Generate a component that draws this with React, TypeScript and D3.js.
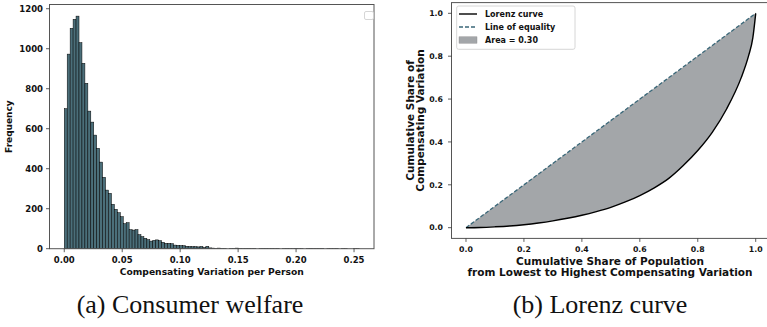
import React from "react";
import * as d3 from "d3";

// ---------- Data ----------
const histCounts: number[] = [
  700, 973, 1102, 1147, 1163, 1030, 927, 827, 688, 633,
  568, 502, 433, 357, 293, 277, 222, 197, 180, 160,
  125, 130, 95, 93, 95, 70, 60, 52, 45, 38,
  42, 44, 40, 32, 27, 27, 25, 18, 17, 16,
  15, 12, 11, 10, 10, 9, 11, 6, 12, 4,
  3, 2, 3, 2, 2, 0, 1, 2, 3, 2,
  1, 2, 2, 1, 2, 0, 1, 2, 2, 1,
  2, 1, 2, 0, 1, 2, 1, 1, 2, 1,
  1, 0, 1, 2, 1, 1, 1, 2, 0, 1,
  1, 1, 2, 0, 1, 1, 0, 0, 1, 1,
];
const histRange: [number, number] = [0, 0.2545];
const histXTicks = [0, 0.05, 0.1, 0.15, 0.2, 0.25];
const histYTicks = [0, 200, 400, 600, 800, 1000, 1200];

const lorenzPop = [0, 0.05, 0.1, 0.15, 0.2, 0.25, 0.3, 0.35, 0.4, 0.45, 0.5, 0.55, 0.6, 0.65, 0.7, 0.75, 0.8, 0.85, 0.9, 0.95, 0.975, 0.99, 1];
const lorenzShare = [0, 0.001, 0.004, 0.008, 0.014, 0.022, 0.032, 0.044, 0.058, 0.075, 0.095, 0.12, 0.15, 0.186, 0.23, 0.29, 0.36, 0.445, 0.555, 0.7, 0.8, 0.885, 1];
const lorenzTicks = [0, 0.2, 0.4, 0.6, 0.8, 1.0];
const legendItems = ["Lorenz curve", "Line of equality", "Area = 0.30"];
const captions = ["(a) Consumer welfare", "(b) Lorenz curve"];

const FONT = "'DejaVu Sans', sans-serif";
const BAR_FILL = "#4b6f7a";
const DASH_COLOR = "#3a6778";
const AREA_FILL = "#a3a6a9";

export default function App() {
  // ---------- Left: histogram ----------
  const span = histRange[1] - histRange[0];
  const pad = span * 0.05;
  const xH = d3.scaleLinear().domain([histRange[0] - pad, histRange[1] + pad]).range([49.5, 374]);
  const yH = d3.scaleLinear().domain([0, d3.max(histCounts)! * 1.05]).range([248.7, 4.5]);
  const binW = span / histCounts.length;

  // ---------- Right: Lorenz ----------
  const xL = d3.scaleLinear().domain([-0.05, 1.05]).range([451.5, 770.2]);
  const yL = d3.scaleLinear().domain([-0.05, 1.05]).range([238.4, 2.6]);
  const pts = lorenzPop.map((p, i) => [p, lorenzShare[i]] as [number, number]);
  const lorenzLine = d3.line<[number, number]>().x(d => xL(d[0])).y(d => yL(d[1])).curve(d3.curveMonotoneX);
  const area = d3.area<[number, number]>().x(d => xL(d[0])).y0(d => yL(d[1])).y1(d => yL(d[0])).curve(d3.curveMonotoneX);

  const hx0 = xH.range()[0], hx1 = xH.range()[1], hy0 = yH.range()[0], hy1 = yH.range()[1];
  const lx0 = xL.range()[0], lx1 = xL.range()[1], ly0 = yL.range()[0], ly1 = yL.range()[1];

  return (
    <svg width={767} height={327} style={{ position: "absolute", left: 0, top: 0, background: "#fff" }}>
      <rect x={0} y={0} width={767} height={327} fill="#fff" />
      {/* Histogram bars */}
      <g>
        {histCounts.map((c, i) => {
          const x0 = histRange[0] + i * binW;
          const xa = xH(x0), xb = xH(x0 + binW);
          return c > 0 ? (
            <rect key={i} x={xa} y={yH(c)} width={xb - xa} height={yH(0) - yH(c)} fill={BAR_FILL} stroke="#000" strokeWidth={0.5} />
          ) : null;
        })}
      </g>
      {/* Histogram frame */}
      <rect x={hx0} y={hy1} width={hx1 - hx0} height={hy0 - hy1} fill="none" stroke="#555" strokeWidth={1} />
      {/* empty legend */}
      <rect x={364.5} y={11.5} width={9} height={8} rx={1.5} fill="#fff" stroke="#ccc" strokeWidth={0.8} />
      {/* Hist x ticks */}
      {histXTicks.map(t => (
        <g key={"hx" + t}>
          <line x1={xH(t)} x2={xH(t)} y1={hy0} y2={hy0 + 3.5} stroke="#333" strokeWidth={0.8} />
          <text x={xH(t)} y={263} textAnchor="middle" fontFamily={FONT} fontWeight="bold" fontSize={8.5} fill="#111">{t.toFixed(2)}</text>
        </g>
      ))}
      {histYTicks.map(t => (
        <g key={"hy" + t}>
          <line x1={hx0 - 3.5} x2={hx0} y1={yH(t)} y2={yH(t)} stroke="#333" strokeWidth={0.8} />
          <text x={43} y={yH(t) + 3} textAnchor="end" fontFamily={FONT} fontWeight="bold" fontSize={8.5} fill="#111">{t}</text>
        </g>
      ))}
      <text x={(hx0 + hx1) / 2} y={275} textAnchor="middle" fontFamily={FONT} fontWeight="bold" fontSize={9.2} fill="#111">Compensating Variation per Person</text>
      <text transform={`translate(12,${(hy0 + hy1) / 2}) rotate(-90)`} textAnchor="middle" fontFamily={FONT} fontWeight="bold" fontSize={9} fill="#111">Frequency</text>

      {/* Lorenz */}
      <path d={area(pts)!} fill={AREA_FILL} stroke="none" />
      <line x1={xL(0)} y1={yL(0)} x2={xL(1)} y2={yL(1)} stroke={DASH_COLOR} strokeWidth={1.3} strokeDasharray="4,2" />
      <path d={lorenzLine(pts)!} fill="none" stroke="#000" strokeWidth={1.4} />
      <rect x={lx0} y={ly1} width={lx1 - lx0} height={ly0 - ly1} fill="none" stroke="#555" strokeWidth={1} />
      {lorenzTicks.map(t => (
        <g key={"lx" + t}>
          <line x1={xL(t)} x2={xL(t)} y1={ly0} y2={ly0 + 3.5} stroke="#333" strokeWidth={0.8} />
          <text x={xL(t)} y={251.5} textAnchor="middle" fontFamily={FONT} fontWeight="bold" fontSize={7.8} fill="#111">{t.toFixed(1)}</text>
        </g>
      ))}
      {lorenzTicks.map(t => (
        <g key={"ly" + t}>
          <line x1={lx0 - 3.5} x2={lx0} y1={yL(t)} y2={yL(t)} stroke="#333" strokeWidth={0.8} />
          <text x={443} y={yL(t) + 2.8} textAnchor="end" fontFamily={FONT} fontWeight="bold" fontSize={7.8} fill="#111">{t.toFixed(1)}</text>
        </g>
      ))}
      <text x={610} y={265} textAnchor="middle" fontFamily={FONT} fontWeight="bold" fontSize={10.5} fill="#111">Cumulative Share of Population</text>
      <text x={610} y={276} textAnchor="middle" fontFamily={FONT} fontWeight="bold" fontSize={10.5} fill="#111">from Lowest to Highest Compensating Variation</text>
      <text transform={`translate(413.5,${(ly0 + ly1) / 2}) rotate(-90)`} textAnchor="middle" fontFamily={FONT} fontWeight="bold" fontSize={10.5} fill="#111">Cumulative Share of</text>
      <text transform={`translate(424,${(ly0 + ly1) / 2}) rotate(-90)`} textAnchor="middle" fontFamily={FONT} fontWeight="bold" fontSize={10.5} fill="#111">Compensating Variation</text>

      {/* Legend */}
      <rect x={456.7} y={6} width={118.3} height={43.3} rx={2} fill="#fff" fillOpacity={0.85} stroke="#ccc" strokeWidth={0.8} />
      {legendItems.map((lab, i) => {
        const cy = 14 + i * 13;
        return (
          <g key={lab}>
            {i === 0 && <line x1={459} x2={477} y1={cy} y2={cy} stroke="#000" strokeWidth={1.4} />}
            {i === 1 && <line x1={459} x2={477} y1={cy} y2={cy} stroke={DASH_COLOR} strokeWidth={1.3} strokeDasharray="4,2" />}
            {i === 2 && <rect x={459} y={cy - 3.2} width={18} height={6.4} fill={AREA_FILL} stroke="#888" strokeWidth={0.4} />}
            <text x={485} y={cy + 2.9} fontFamily={FONT} fontWeight="bold" fontSize={8} fill="#111">{lab}</text>
          </g>
        );
      })}

      {/* Captions */}
      <text x={190} y={313} textAnchor="middle" fontFamily="'Liberation Serif', serif" fontSize={26} fill="#111">{captions[0]}</text>
      <text x={600} y={313} textAnchor="middle" fontFamily="'Liberation Serif', serif" fontSize={26} fill="#111">{captions[1]}</text>
    </svg>
  );
}
